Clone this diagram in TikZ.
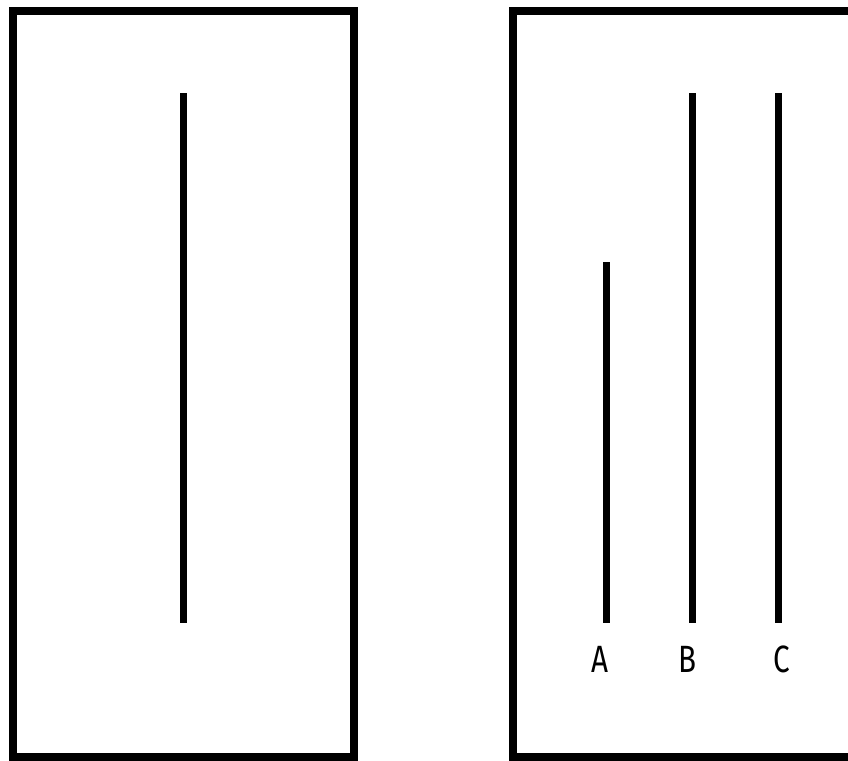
\documentclass[tikz,border=0pt]{standalone}
\usepackage{fontspec}
\setmainfont{Fira Sans}
\begin{document}
\begin{tikzpicture}[x=1pt,y=-1pt,
  frame/.style={draw=black,line width=8pt,fill=none},
  bar/.style={draw=black,line width=7pt},
  lbl/.style={font=\fontsize{38}{40}\selectfont,xscale=0.78,inner sep=0pt,text=black}]
\useasboundingbox (0,0) rectangle (848,760);
\clip (0,0) rectangle (848,760);
\fill[white] (0,0) rectangle (848,760);
% left card
\draw[frame] (13,11) rectangle (354,757);
\draw[bar] (183.5,93) -- (183.5,623);
% right card
\draw[frame] (513,11) rectangle (870,757);
\draw[bar] (606,262) -- (606,623);
\draw[bar] (692,93) -- (692,623);
\draw[bar] (778.5,93) -- (778.5,623);
\node[lbl] (A) at (600,659) {A};
\node[lbl] (B) at (688,659) {B};
\node[lbl] (C) at (782,659) {C};
\end{tikzpicture}
\end{document}
